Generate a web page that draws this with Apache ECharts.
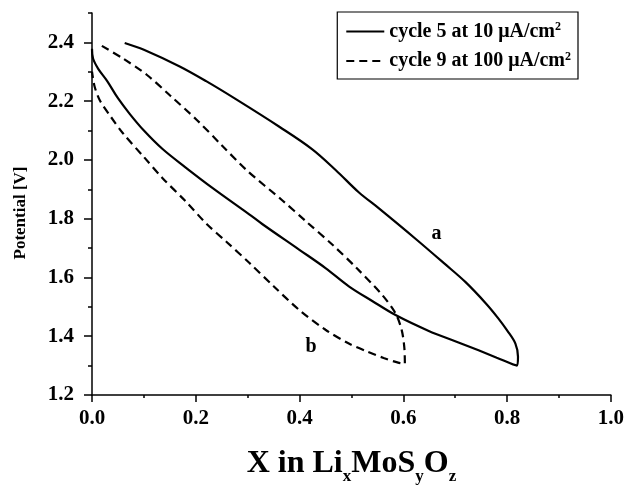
<!DOCTYPE html>
<html>
<head>
<meta charset="utf-8">
<script src="https://cdn.jsdelivr.net/npm/echarts@6/dist/echarts.min.js"></script>
<style>
html,body{margin:0;padding:0;background:#fff;}
#chart{width:627px;height:490px;}
</style>
</head>
<body>
<div id="chart"></div>
<script>
// cycle 5 at 10 uA/cm2 (solid loop)
const cycle5X = [0.063, 0.10, 0.169, 0.22, 0.278, 0.361, 0.424, 0.47, 0.514, 0.553, 0.624, 0.68, 0.720, 0.76, 0.783, 0.80, 0.816, 0.821, 0.819,
                 0.78, 0.745, 0.70, 0.649, 0.585, 0.54, 0.495, 0.45, 0.399, 0.328, 0.303, 0.232, 0.18, 0.136, 0.10, 0.073, 0.05, 0.029, 0.012, 0.002, 0.0];
const cycle5Y = [2.398, 2.375, 2.318, 2.268, 2.206, 2.113, 2.037, 1.965, 1.89, 1.835, 1.731, 1.646, 1.584, 1.51, 1.461, 1.42, 1.375, 1.33, 1.300,
                 1.327, 1.352, 1.383, 1.418, 1.472, 1.52, 1.57, 1.632, 1.695, 1.782, 1.815, 1.905, 1.975, 2.037, 2.10, 2.156, 2.21, 2.269, 2.31, 2.345, 2.378];
// cycle 9 at 100 uA/cm2 (dashed loop)
const cycle9X = [0.019, 0.06, 0.106, 0.15, 0.202, 0.25, 0.298, 0.367, 0.413, 0.463, 0.51, 0.559, 0.585, 0.597, 0.602, 0.603,
                 0.59, 0.562, 0.53, 0.495, 0.45, 0.399, 0.35, 0.303, 0.26, 0.221, 0.18, 0.136, 0.10, 0.06, 0.035, 0.015, 0.005, 0.0];
const cycle9Y = [2.388, 2.345, 2.289, 2.22, 2.136, 2.05, 1.965, 1.862, 1.790, 1.712, 1.632, 1.541, 1.478, 1.420, 1.36, 1.306,
                 1.31, 1.326, 1.348, 1.375, 1.422, 1.49, 1.57, 1.650, 1.72, 1.782, 1.86, 1.938, 2.01, 2.09, 2.15, 2.203, 2.25, 2.30];
// curve annotations
const noteText = ['a', 'b'];
const noteX = [0.664, 0.422];
const noteY = [1.75, 1.365];
// tick labels
const xTicks = [0.0, 0.2, 0.4, 0.6, 0.8, 1.0];
const yMajor = [1.2, 1.4, 1.6, 1.8, 2.0, 2.2, 2.4];
const yMinor = [1.3, 1.5, 1.7, 1.9, 2.1, 2.3, 2.5];
const seriesNames = ['cycle 5 at 10 μA/cm{sup|2}', 'cycle 9 at 100 μA/cm{sup|2}'];

const FONT = '"Liberation Serif", "Times New Roman", serif';
const zip = (a, b) => a.map((v, i) => [v, b[i]]);

const chart = echarts.init(document.getElementById('chart'), null, {renderer: 'canvas'});
chart.setOption({
  animation: false,
  backgroundColor: '#fff',
  grid: {left: 92, right: 14, top: 13, bottom: 84, containLabel: false},
  legend: {
    right: 49, top: 12,
    orient: 'vertical',
    itemWidth: 38, itemHeight: 10, itemGap: 9,
    padding: [9, 7, 8, 8],
    borderColor: '#000', borderWidth: 1.2, borderRadius: 0,
    itemStyle: {opacity: 0},
    textStyle: {
      fontFamily: FONT, fontWeight: 'bold', fontSize: 20, color: '#000',
      rich: {sup: {fontFamily: FONT, fontWeight: 'bold', fontSize: 12, verticalAlign: 'top', padding: [0, 0, 9, 0]}}
    },
    data: seriesNames
  },
  xAxis: {
    type: 'value', min: 0, max: 1, interval: 0.2,
    name: '{b|X in Li}{s|x}{b|MoS}{s|y}{b|O}{s|z}',
    nameLocation: 'middle', nameGap: 48,
    nameTextStyle: {
      rich: {
        b: {fontFamily: FONT, fontWeight: 'bold', fontSize: 32, color: '#000'},
        s: {fontFamily: FONT, fontWeight: 'bold', fontSize: 17, color: '#000', padding: [25, 0, 0, 0]}
      }
    },
    axisLine: {lineStyle: {color: '#000', width: 1.5}},
    axisTick: {show: true, inside: false, length: 7, lineStyle: {color: '#000', width: 1.5}},
    minorTick: {show: true, splitNumber: 2, length: 3, lineStyle: {color: '#000', width: 1.5}},
    splitLine: {show: false},
    minorSplitLine: {show: false},
    axisLabel: {
      customValues: xTicks,
      fontFamily: FONT, fontWeight: 'bold', fontSize: 21, color: '#000', margin: 13,
      formatter: v => v.toFixed(1)
    }
  },
  yAxis: [{
    type: 'value', min: 1.2, max: 2.5, interval: 0.1,
    position: 'left',
    name: 'Potential [V]', nameLocation: 'middle', nameGap: 63,
    nameTextStyle: {fontFamily: FONT, fontWeight: 'bold', fontSize: 17, color: '#000', padding: [0, 18, 0, 0]},
    axisLine: {show: true, lineStyle: {color: '#000', width: 1.5}},
    axisTick: {show: true, customValues: yMajor, length: 8, lineStyle: {color: '#000', width: 1.5}},
    splitLine: {show: false},
    axisLabel: {
      customValues: yMajor,
      fontFamily: FONT, fontWeight: 'bold', fontSize: 21, color: '#000', margin: 18,
      formatter: v => v.toFixed(1)
    }
  }, {
    type: 'value', min: 1.2, max: 2.5, interval: 0.1,
    position: 'left', offset: 0,
    axisLine: {show: false},
    axisTick: {show: true, customValues: yMinor, length: 4, lineStyle: {color: '#000', width: 1.5}},
    axisLabel: {show: false},
    splitLine: {show: false}
  }],
  series: [{
    name: seriesNames[0], type: 'line', yAxisIndex: 0,
    data: zip(cycle5X, cycle5Y),
    showSymbol: false, symbol: 'none', smooth: 0.35,
    lineStyle: {color: '#000', width: 2.2, type: 'solid'},
    itemStyle: {color: '#000'}
  }, {
    name: seriesNames[1], type: 'line', yAxisIndex: 0,
    data: zip(cycle9X, cycle9Y),
    showSymbol: false, symbol: 'none', smooth: 0.3,
    lineStyle: {color: '#000', width: 2.2, type: [8, 5]},
    itemStyle: {color: '#000'}
  }, {
    type: 'scatter', yAxisIndex: 0, symbolSize: 0,
    data: noteText.map((t, i) => ({value: [noteX[i], noteY[i]], name: t})),
    itemStyle: {opacity: 1, color: '#000'},
    label: {show: true, formatter: p => p.name, position: 'inside',
            fontFamily: FONT, fontWeight: 'bold', fontSize: 20, color: '#000', opacity: 1},
    silent: true
  }]
});
</script>
</body>
</html>
